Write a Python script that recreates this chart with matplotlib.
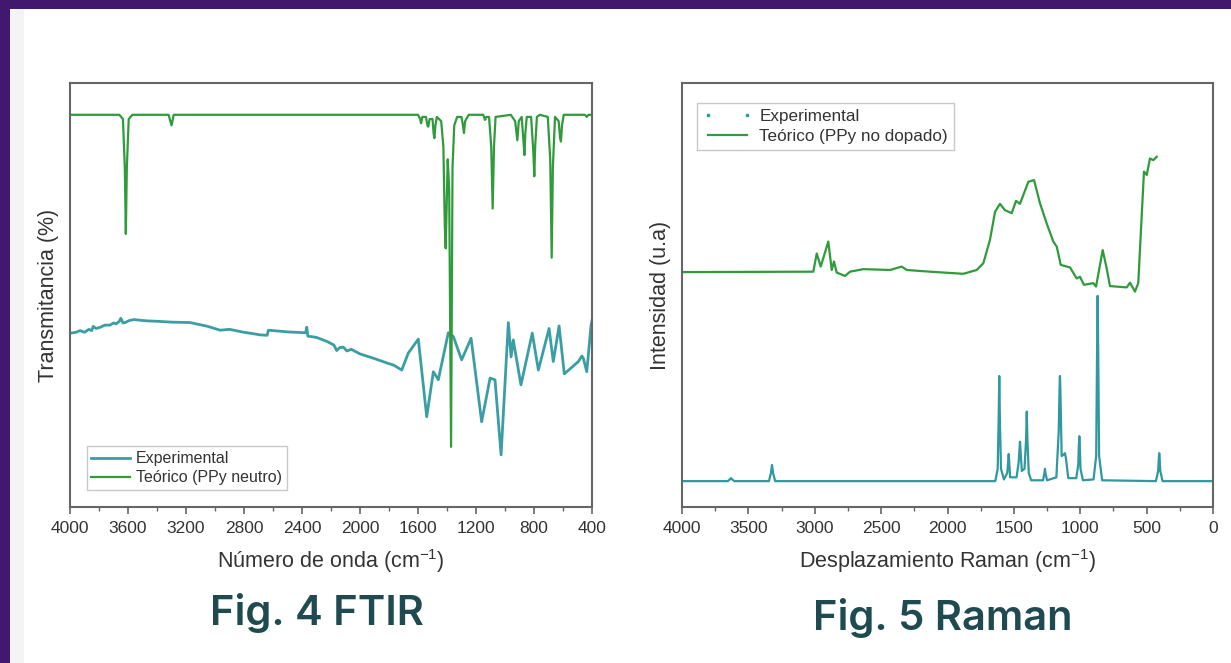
import matplotlib
matplotlib.use("Agg")
import matplotlib.pyplot as plt
from matplotlib.patches import Rectangle
from matplotlib.lines import Line2D
from matplotlib.ticker import MultipleLocator

plt.rcParams['font.family'] = ['Liberation Sans', 'DejaVu Sans']

# ---- Fig. 4 FTIR: teorico (PPy neutro) ----
ftir_teo_x = [4000, 3660, 3635, 3622, 3615, 3608, 3595, 3570, 3320, 3300, 3285,
              1600, 1585, 1579, 1570, 1545, 1535, 1529, 1520, 1500, 1492, 1487,
              1480, 1470, 1440, 1425, 1415, 1409, 1403, 1395, 1385, 1372, 1362,
              1350, 1330, 1300, 1290, 1283, 1275, 1250, 1150, 1138, 1128, 1110,
              1095, 1085, 1076, 1065, 960, 930, 915, 905, 885, 872, 866, 860,
              850, 820, 805, 798, 792, 780, 760, 705, 688, 678, 670, 655, 630,
              620, 614, 607, 595, 450, 436, 425, 400]
ftir_teo_y = [92.5, 92.5, 91.5, 80, 64.4, 80, 91.5, 92.5, 92.5, 90, 92.5,
              92.5, 91.5, 90.5, 92, 92, 90, 89.7, 91.5, 91.5, 88, 87,
              90, 92, 91, 85, 66, 61, 70, 82, 75, 14.2, 80,
              90, 92, 92, 90, 88.2, 91, 92.5, 92.5, 91.3, 92, 92,
              85, 70.4, 85, 92, 92.5, 91, 86.5, 91, 92, 86, 83, 88,
              92, 92, 84, 78, 85, 92, 92.5, 92, 82, 58.8, 80, 92, 91,
              87, 86.2, 90, 92.5, 92.5, 92, 92.5, 92.5]

# ---- Fig. 4 FTIR: experimental ----
ftir_exp_x = [4000, 3960, 3930, 3900, 3870, 3850, 3840, 3820, 3790, 3760, 3724,
              3700, 3680, 3660, 3650, 3643, 3635, 3620, 3590, 3560, 3471, 3400,
              3300, 3172, 3050, 2965, 2900, 2800, 2740, 2690, 2640, 2632, 2500,
              2375, 2367, 2360, 2300, 2225, 2180, 2161, 2140, 2115, 2090, 2060,
              2000, 1900, 1800, 1770, 1712, 1667, 1598, 1540, 1494, 1460, 1391,
              1356, 1299, 1234, 1161, 1103, 1069, 1027, 977, 958, 943, 890, 812,
              770, 696, 667, 627, 591, 494, 470, 460, 436, 407, 400]
ftir_exp_y = [41.0, 41.2, 41.6, 41.2, 41.9, 41.6, 42.6, 42.1, 42.4, 42.9, 42.9,
              43.4, 43.2, 43.8, 44.5, 44.1, 43.4, 43.5, 44.0, 44.2, 43.9, 43.8,
              43.6, 43.5, 42.6, 41.7, 41.9, 41.2, 40.9, 40.6, 40.5, 41.7, 41.3,
              41.1, 42.4, 40.3, 40.0, 39.0, 38.2, 36.9, 37.6, 37.7, 36.8, 37.2,
              36.1, 35.0, 33.8, 33.5, 32.3, 36.3, 39.6, 21.3, 31.9, 30.0, 41.1,
              40.2, 34.7, 39.8, 20.1, 30.4, 30.0, 12.3, 43.5, 35.4, 39.4, 28.8, 41.0,
              32.3, 42.1, 34.3, 42.7, 31.4, 34.3, 35.6, 35.1, 31.9, 42.7, 44.0]

# ---- Fig. 5 Raman: teorico (PPy no dopado) ----
raman_teo_x = [4000, 3011, 2985, 2955, 2898, 2872, 2855, 2835, 2772, 2734, 2634,
               2433, 2345, 2307, 2132, 1881, 1780, 1730, 1680, 1642, 1605, 1567,
               1516, 1484, 1454, 1391, 1348, 1303, 1253, 1203, 1177, 1147, 1077,
               1027, 1002, 972, 902, 881, 856, 831, 801, 776, 650, 625, 588, 563,
               520, 499, 475, 450, 424]
raman_teo_y = [55.4, 55.5, 59.8, 56.7, 62.6, 55.9, 57.9, 55.3, 54.5, 55.5, 56.1,
               55.9, 56.7, 55.9, 55.5, 55.0, 55.9, 57.5, 63.0, 69.6, 71.5, 70.0,
               69.3, 72.2, 71.5, 76.7, 77.1, 71.6, 66.9, 62.6, 61.4, 57.1, 56.5,
               53.9, 54.3, 52.4, 52.8, 52.0, 56.3, 60.6, 56.3, 52.1, 51.8, 52.9, 50.8, 52.8,
               79.1, 78.3, 82.2, 81.8, 82.6]

# ---- Fig. 5 Raman: experimental ----
raman_exp_x = [4000, 3655, 3640, 3631, 3622, 3605, 3345, 3330, 3322, 3314, 3298,
               1640, 1622, 1615, 1610, 1605, 1597, 1575, 1550, 1542, 1539, 1536,
               1528, 1480, 1464, 1457, 1454, 1451, 1440, 1420, 1408, 1403, 1398,
               1388, 1370, 1280, 1270, 1266, 1262, 1250, 1180, 1162, 1156, 1153,
               1150, 1140, 1120, 1115, 1108, 1090, 1030, 1015, 1010, 1007, 1004,
               998, 980, 900, 880, 873, 869, 865, 858, 835, 430, 413, 408, 405,
               402, 397, 380, 0]
raman_exp_y = [6.1, 6.1, 6.5, 6.8, 6.5, 6.1, 6.1, 8.0, 9.9, 8.0, 6.1,
               6.1, 9.0, 20.0, 30.9, 20.0, 9.0, 6.5, 8.0, 11.0, 12.5, 11.0,
               7.0, 7.0, 10.5, 14.0, 15.4, 14.0, 8.5, 9.0, 16.0, 22.5, 16.0,
               8.0, 6.3, 6.3, 8.0, 9.0, 8.0, 6.3, 7.0, 18.0, 28.0, 30.9,
               28.0, 12.0, 12.5, 12.7, 11.5, 6.8, 6.8, 10.0, 15.0, 16.7, 15.0,
               9.0, 6.3, 6.5, 12.0, 38.0, 49.8, 38.0, 12.0, 6.3, 6.1, 8.5, 11.5, 12.7,
               11.5, 8.5, 6.1, 6.1]

ftir_ticks = [4000, 3600, 3200, 2800, 2400, 2000, 1600, 1200, 800, 400]
raman_ticks = [4000, 3500, 3000, 2500, 2000, 1500, 1000, 500, 0]

teal = '#3a9ea4'
teal2 = '#2f999f'
green = '#2f9b3a'
grey = '#666666'
txt = '#333333'

fig = plt.figure(figsize=(12.31, 6.63), dpi=100)
fig.patch.set_facecolor('#42186e')
fig.patches.append(Rectangle((10 / 1231, 0), 1, 1 - 9 / 663, transform=fig.transFigure,
                             facecolor='white', edgecolor='none', zorder=-10))
fig.patches.append(Rectangle((10 / 1231, 0), 14 / 1231, 1 - 9 / 663, transform=fig.transFigure,
                             facecolor='#f4f4f4', edgecolor='none', zorder=-9))


def style_axes(ax, ticks, minor):
    ax.set_ylim(0, 100)
    ax.set_yticks([])
    ax.set_xticks(ticks)
    ax.xaxis.set_minor_locator(MultipleLocator(minor))
    ax.tick_params(axis='x', which='major', direction='out', length=5, width=1.2,
                   color=grey, labelsize=12.5, labelcolor=txt, pad=5)
    ax.tick_params(axis='x', which='minor', direction='out', length=3, width=1.0, color=grey)
    for s in ax.spines.values():
        s.set_color(grey)
        s.set_linewidth(1.5)
    ax.set_facecolor('none')


# Fig. 4
ax1 = fig.add_axes([70 / 1231, 1 - 507 / 663, 522 / 1231, 424 / 663])
ax1.plot(ftir_exp_x, ftir_exp_y, color=teal, lw=2.0, label='Experimental')
ax1.plot(ftir_teo_x, ftir_teo_y, color=green, lw=1.6, label='Teórico (PPy neutro)')
ax1.set_xlim(4000, 400)
style_axes(ax1, ftir_ticks, 200)
ax1.set_xlabel('Número de onda (cm$^{\\mathregular{-1}}$)', fontsize=15.5, color=txt, labelpad=8)
ax1.set_ylabel('Transmitancia (%)', fontsize=15.5, color=txt, labelpad=8)
leg1 = ax1.legend(loc='lower left', bbox_to_anchor=(0.032, 0.04), fontsize=11.5,
                  frameon=True, fancybox=False, edgecolor='#bbbbbb', handlelength=2.4,
                  borderpad=0.3, labelspacing=0.25, handletextpad=0.4, borderaxespad=0)
for t in leg1.get_texts():
    t.set_color(txt)

# Fig. 5
ax2 = fig.add_axes([682 / 1231, 1 - 507 / 663, 531 / 1231, 424 / 663])
ax2.plot(raman_exp_x, raman_exp_y, color=teal2, lw=1.6)
ax2.plot(raman_teo_x, raman_teo_y, color=green, lw=1.6)
ax2.set_xlim(4000, 0)
style_axes(ax2, raman_ticks, 250)
ax2.set_xlabel('Desplazamiento Raman (cm$^{\\mathregular{-1}}$)', fontsize=15.5, color=txt, labelpad=8)
ax2.set_ylabel('Intensidad (u.a)', fontsize=15.5, color=txt, labelpad=8)
h_exp = Line2D([], [], ls='none', marker='s', ms=1.5, color=teal2)
h_teo = Line2D([], [], color=green, lw=1.6)
leg2 = ax2.legend([h_exp, h_teo], ['Experimental', 'Teórico (PPy no dopado)'],
                  loc='upper left', bbox_to_anchor=(0.028, 0.953), fontsize=12.3, numpoints=2,
                  frameon=True, fancybox=False, edgecolor='#bbbbbb', handlelength=2.9,
                  borderpad=0.35, labelspacing=0.3, handletextpad=0.4, borderaxespad=0)
for t in leg2.get_texts():
    t.set_color(txt)

# captions
fig.text(317 / 1231, 1 - 613 / 663, 'Fig. 4 FTIR', ha='center', va='center',
         fontsize=30, color='#1e4a50', family=['Inter', 'DejaVu Sans'], fontweight='semibold')
fig.text(943 / 1231, 1 - 618 / 663, 'Fig. 5 Raman', ha='center', va='center',
         fontsize=30, color='#1e4a50', family=['Inter', 'DejaVu Sans'], fontweight='semibold')

fig.savefig('out.png', dpi=100, facecolor=fig.get_facecolor())
